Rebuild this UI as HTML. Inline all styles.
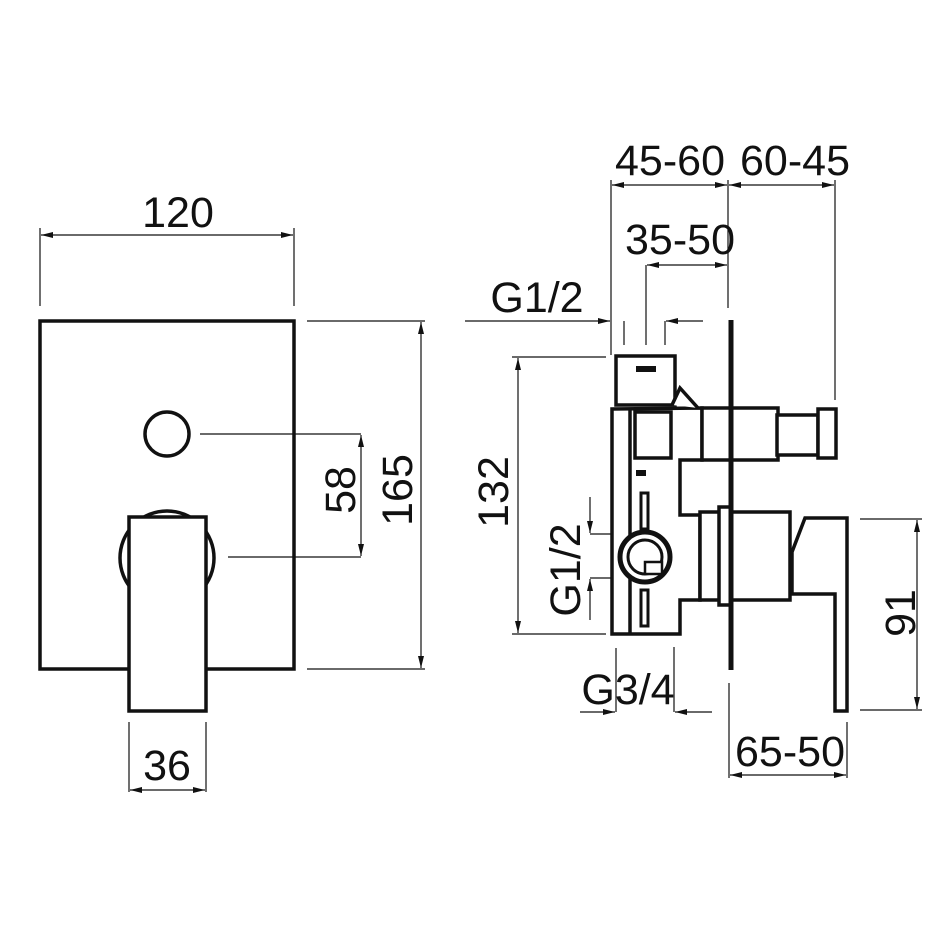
<!DOCTYPE html>
<html><head><style>html,body{margin:0;padding:0;background:#fff}svg{display:block}</style></head>
<body>
<svg width="950" height="950" viewBox="0 0 950 950" xmlns="http://www.w3.org/2000/svg" font-family="Liberation Sans, sans-serif">
<defs>
<marker id="a" viewBox="0 0 12 6" refX="12" refY="3" markerWidth="12" markerHeight="6" orient="auto-start-reverse" markerUnits="userSpaceOnUse"><path d="M0,0 L12,3 L0,6 z" fill="#111"/></marker>
</defs>
<rect width="950" height="950" fill="#fff"/>
<g stroke="#111" fill="none">
<g stroke-width="3.5">
<rect x="40" y="321" width="254" height="348" fill="#fff"/>
<circle cx="167" cy="434" r="22"/>
<circle cx="167" cy="558" r="47"/>
<rect x="129" y="517" width="77" height="194" fill="#fff"/>
</g>
<g stroke-width="1.2">
<line x1="40" y1="228" x2="40" y2="306"/><line x1="294" y1="228" x2="294" y2="306"/>
<line x1="41" y1="235" x2="293" y2="235" marker-start="url(#a)" marker-end="url(#a)"/>
<line x1="200" y1="434" x2="361" y2="434"/><line x1="228" y1="557" x2="361" y2="557"/>
<line x1="361" y1="435" x2="361" y2="556" marker-start="url(#a)" marker-end="url(#a)"/>
<line x1="307" y1="321" x2="425" y2="321"/><line x1="307" y1="669" x2="425" y2="669"/>
<line x1="421" y1="322" x2="421" y2="668" marker-start="url(#a)" marker-end="url(#a)"/>
<line x1="129" y1="722" x2="129" y2="792"/><line x1="206" y1="722" x2="206" y2="792"/>
<line x1="130" y1="790" x2="205" y2="790" marker-start="url(#a)" marker-end="url(#a)"/>
</g>
<g stroke-width="1.2">
<line x1="611" y1="180" x2="611" y2="355"/><line x1="728" y1="180" x2="728" y2="308"/><line x1="835" y1="180" x2="835" y2="400"/>
<line x1="612" y1="185" x2="727" y2="185" marker-start="url(#a)" marker-end="url(#a)"/>
<line x1="729" y1="185" x2="834" y2="185" marker-start="url(#a)" marker-end="url(#a)"/>
<line x1="646" y1="265" x2="646" y2="345"/>
<line x1="647" y1="265" x2="727" y2="265" marker-start="url(#a)" marker-end="url(#a)"/>
<line x1="465" y1="321" x2="610" y2="321" marker-end="url(#a)"/>
<line x1="624" y1="321" x2="624" y2="345"/><line x1="665" y1="321" x2="665" y2="345"/>
<line x1="703" y1="321" x2="666" y2="321" marker-end="url(#a)"/>
<line x1="512" y1="357" x2="606" y2="357"/><line x1="512" y1="634" x2="606" y2="634"/>
<line x1="518" y1="358" x2="518" y2="633" marker-start="url(#a)" marker-end="url(#a)"/>
<line x1="590" y1="497" x2="590" y2="533" marker-end="url(#a)"/><line x1="590" y1="534" x2="625" y2="534"/>
<line x1="590" y1="620" x2="590" y2="579" marker-end="url(#a)"/><line x1="590" y1="578" x2="615" y2="578"/>
<line x1="616" y1="648" x2="616" y2="712"/><line x1="674" y1="647" x2="674" y2="712"/>
<line x1="580" y1="712" x2="615" y2="712" marker-end="url(#a)"/>
<line x1="712" y1="712" x2="675" y2="712" marker-end="url(#a)"/>
<line x1="860" y1="519" x2="922" y2="519"/><line x1="860" y1="710" x2="922" y2="710"/>
<line x1="917" y1="520" x2="917" y2="709" marker-start="url(#a)" marker-end="url(#a)"/>
<line x1="729" y1="683" x2="729" y2="778"/><line x1="847" y1="722" x2="847" y2="778"/>
<line x1="730" y1="775" x2="846" y2="775" marker-start="url(#a)" marker-end="url(#a)"/>
</g>
<g stroke-width="3.5" fill="#fff">
<rect x="616" y="356" width="59" height="49"/>
<path d="M612,409 L612,634 L680,634 L680,600 L700,600 L700,515 L680,515 L680,460 L702,460 L702,408 Z"/>
<line x1="630" y1="410" x2="630" y2="633"/>
<rect x="635" y="412" width="36" height="46"/>
<path d="M672,405 L680,388 L698,408" />
<rect x="702" y="408" width="76" height="52"/>
<rect x="777" y="415" width="41" height="40"/>
<rect x="818" y="409" width="18" height="49"/>
<rect x="700" y="512" width="90" height="88"/>
<rect x="719" y="507" width="12" height="98"/>
<path d="M805,518 L847,518 L847,711 L835,711 L835,594 L792,594 L792,552 Z"/>
<circle cx="645" cy="557" r="25" stroke-width="5"/>
<circle cx="645" cy="557" r="17" stroke-width="3"/>
<path d="M645,562 L662,562 L662,574 L645,574 Z" stroke-width="2.5"/>
<rect x="641" y="493" width="7" height="36" stroke-width="3"/>
<rect x="641" y="590" width="7" height="36" stroke-width="3"/>
</g>
<line x1="731" y1="320" x2="731" y2="670" stroke-width="5"/>
<rect x="636" y="366" width="20" height="6" fill="#111" stroke="none"/>
<rect x="636" y="470" width="10" height="6" fill="#111" stroke="none"/>
</g>
<g fill="#111" font-size="43">
<text x="178" y="227" text-anchor="middle">120</text>
<text x="167" y="780" text-anchor="middle">36</text>
<text transform="translate(355,490) rotate(-90)" text-anchor="middle">58</text>
<text transform="translate(412,490) rotate(-90)" text-anchor="middle">165</text>
<text x="670" y="175" text-anchor="middle">45-60</text>
<text x="795" y="175" text-anchor="middle">60-45</text>
<text x="680" y="254" text-anchor="middle">35-50</text>
<text x="537" y="312" text-anchor="middle">G1/2</text>
<text transform="translate(508,492) rotate(-90)" text-anchor="middle">132</text>
<text transform="translate(580,570) rotate(-90)" text-anchor="middle">G1/2</text>
<text x="628" y="704" text-anchor="middle">G3/4</text>
<text transform="translate(915,613) rotate(-90)" text-anchor="middle">91</text>
<text x="790" y="766" text-anchor="middle">65-50</text>
</g>
</svg>
</body></html>
